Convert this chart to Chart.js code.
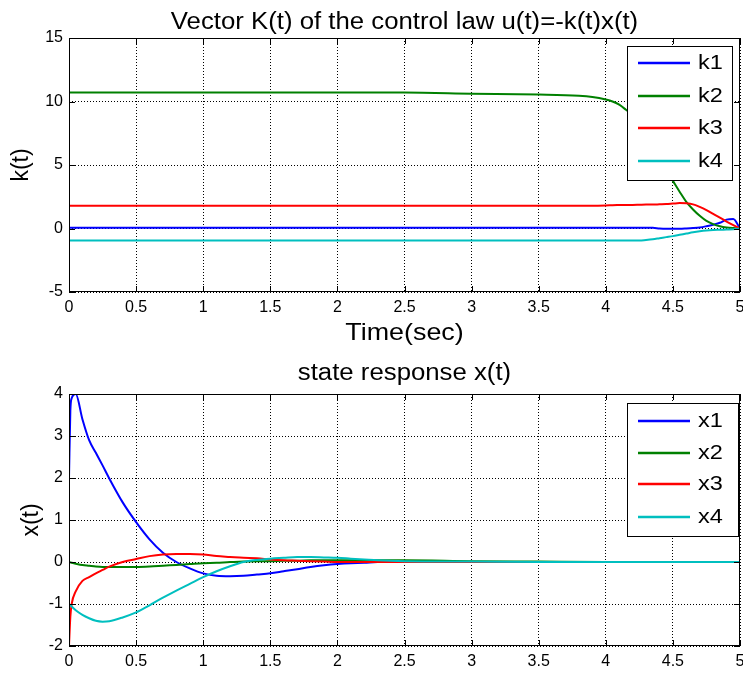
<!DOCTYPE html>
<html>
<head>
<meta charset="utf-8">
<script src="https://cdn.jsdelivr.net/npm/chart.js@4.4.0/dist/chart.umd.min.js"></script>
<style>
  html, body { margin: 0; padding: 0; background: #fff; }
  #wrap { position: relative; width: 743px; height: 675px; }
  canvas { position: absolute; left: 0; }
</style>
</head>
<body>
<div id="wrap">
  <canvas id="gainChart" width="743" height="350" style="top:0"></canvas>
  <canvas id="stateChart" width="743" height="325" style="top:350px"></canvas>
</div>
<script>

// gain vector K(t)
const tGain = [0, 1, 2, 2.5, 3, 3.5, 3.8, 3.9, 4.0, 4.05, 4.1, 4.15, 4.2, 4.25, 4.3, 4.35, 4.4, 4.45, 4.5, 4.55, 4.6, 4.65, 4.7, 4.75, 4.8, 4.85, 4.9, 4.95, 5];
const k1 = [0.05, 0.05, 0.05, 0.05, 0.05, 0.05, 0.05, 0.05, 0.05, 0.05, 0.05, 0.05, 0.05, 0.05, 0.05, 0.05, 0.0, -0.02, -0.02, -0.02, 0.0, 0.03, 0.08, 0.18, 0.3, 0.45, 0.7, 0.75, 0.0];
const k2 = [10.7, 10.7, 10.7, 10.7, 10.62, 10.55, 10.45, 10.35, 10.15, 10.0, 9.75, 9.35, 8.9, 8.1, 7.3, 6.4, 5.5, 4.6, 3.75, 2.9, 2.1, 1.5, 1.0, 0.6, 0.35, 0.18, 0.08, 0.03, 0.0];
const k3 = [1.8, 1.8, 1.8, 1.8, 1.8, 1.8, 1.8, 1.8, 1.82, 1.84, 1.85, 1.86, 1.86, 1.87, 1.88, 1.88, 1.9, 1.92, 1.96, 2.0, 1.98, 1.9, 1.7, 1.45, 1.15, 0.85, 0.55, 0.27, 0.0];
const k4 = [-0.95, -0.95, -0.95, -0.95, -0.95, -0.95, -0.95, -0.95, -0.95, -0.95, -0.95, -0.95, -0.95, -0.95, -0.9, -0.84, -0.76, -0.68, -0.6, -0.5, -0.4, -0.3, -0.22, -0.16, -0.12, -0.1, -0.08, -0.06, 0.0];

// state response x(t)
const tState = [0, 0.01, 0.02, 0.05, 0.1, 0.15, 0.2, 0.25, 0.3, 0.4, 0.5, 0.6, 0.7, 0.8, 0.9, 1.0, 1.1, 1.2, 1.3, 1.4, 1.5, 1.6, 1.7, 1.8, 1.9, 2.0, 2.1, 2.2, 2.3, 2.5, 3, 3.5, 4, 4.5, 5];
const x1 = [2, 3.6, 3.9, 4.0, 3.4, 2.9, 2.6, 2.3, 1.99, 1.42, 0.95, 0.54, 0.22, 0.0, -0.15, -0.27, -0.33, -0.34, -0.33, -0.3, -0.27, -0.22, -0.17, -0.12, -0.08, -0.05, -0.03, -0.02, 0, 0, 0, 0, 0, 0, 0];
const x2 = [0, -0.01, -0.02, -0.04, -0.07, -0.09, -0.11, -0.12, -0.12, -0.12, -0.12, -0.11, -0.09, -0.07, -0.05, -0.03, -0.02, 0, 0.01, 0.02, 0.02, 0.03, 0.03, 0.04, 0.04, 0.04, 0.04, 0.04, 0.04, 0.04, 0.02, 0.01, 0, 0, 0];
const x3 = [-2, -1.3, -1.0, -0.7, -0.45, -0.36, -0.27, -0.19, -0.11, 0.0, 0.07, 0.14, 0.18, 0.19, 0.19, 0.18, 0.14, 0.12, 0.1, 0.09, 0.06, 0.04, 0.03, 0.02, 0.01, 0, 0, 0, 0, 0, 0, 0, 0, 0, 0];
const x4 = [-1, -1.03, -1.06, -1.15, -1.26, -1.34, -1.4, -1.42, -1.41, -1.32, -1.2, -1.03, -0.85, -0.68, -0.52, -0.36, -0.22, -0.1, 0.0, 0.05, 0.08, 0.1, 0.12, 0.12, 0.11, 0.1, 0.08, 0.06, 0.04, 0.02, 0.01, 0, 0, 0, 0];

// tick labels
const timeTicks = [0, 0.5, 1, 1.5, 2, 2.5, 3, 3.5, 4, 4.5, 5];
const gainTicks = [-5, 0, 5, 10, 15];
const stateTicks = [-2, -1, 0, 1, 2, 3, 4];

const FONT = "'Liberation Sans', Arial, Helvetica, sans-serif";
const colors = ['#0000ff', '#008000', '#ff0000', '#00bfbf'];
const STRETCH = 1.12; // the reference text is a little wider than plain Arial

const toPoints = (ts, vs) => ts.map((t, i) => ({ x: t, y: vs[i] }));

const wideText = (ctx, txt, x, y) => {
    ctx.save();
    ctx.translate(x, y);
    ctx.scale(STRETCH, 1);
    ctx.fillText(txt, 0, 0);
    ctx.restore();
};

// matlab style frame, inward ticks, boxed legend and the titles
const matlabLook = {
    id: 'matlabLook',
    afterDraw(chart, args, opts) {
        const { ctx, chartArea: a, scales: { x, y } } = chart;
        ctx.save();
        ctx.strokeStyle = '#000';
        ctx.lineWidth = 1;
        ctx.strokeRect(a.left + 0.5, a.top + 0.5, a.right - a.left - 1, a.bottom - a.top - 1);

        ctx.beginPath();
        x.ticks.forEach(t => {
            const px = Math.round(x.getPixelForValue(t.value)) + 0.5;
            ctx.moveTo(px, a.bottom); ctx.lineTo(px, a.bottom - 6);
            ctx.moveTo(px, a.top); ctx.lineTo(px, a.top + 6);
        });
        y.ticks.forEach(t => {
            const py = Math.round(y.getPixelForValue(t.value)) + 0.5;
            ctx.moveTo(a.left, py); ctx.lineTo(a.left + 6, py);
            ctx.moveTo(a.right, py); ctx.lineTo(a.right - 6, py);
        });
        ctx.stroke();

        // legend
        const [l, tp, r, b] = opts.box;
        ctx.fillStyle = '#fff';
        ctx.fillRect(l, tp, r - l, b - tp);
        ctx.strokeRect(l + 0.5, tp + 0.5, r - l, b - tp);
        ctx.font = `21px ${FONT}`;
        ctx.textBaseline = 'middle';
        ctx.textAlign = 'left';
        chart.data.datasets.forEach((ds, i) => {
            const ry = opts.rows[i];
            ctx.strokeStyle = ds.borderColor;
            ctx.lineWidth = 2.5;
            ctx.beginPath();
            ctx.moveTo(l + 11, ry); ctx.lineTo(l + 63, ry);
            ctx.stroke();
            ctx.fillStyle = '#000';
            wideText(ctx, ds.label, l + 71, ry);
        });

        // titles
        const cx = (a.left + a.right) / 2;
        ctx.fillStyle = '#000';
        ctx.textAlign = 'center';
        ctx.textBaseline = 'alphabetic';
        ctx.font = `23px ${FONT}`;
        wideText(ctx, opts.title, cx, opts.titleY);
        if (opts.xTitle) {
            ctx.font = `24px ${FONT}`;
            wideText(ctx, opts.xTitle, cx, opts.xTitleY);
        }
        ctx.font = `23px ${FONT}`;
        ctx.textBaseline = 'middle';
        ctx.translate(opts.yTitleX, (a.top + a.bottom) / 2);
        ctx.rotate(-Math.PI / 2);
        ctx.fillText(opts.yTitle, 0, 0);
        ctx.restore();
    }
};

const makeChart = (id, ts, series, names, yTicks, heightBelow, topPad, lookOpts) => {
    const ctx = document.getElementById(id).getContext('2d');
    return new Chart(ctx, {
        type: 'line',
        data: {
            datasets: series.map((s, i) => ({
                label: names[i],
                data: toPoints(ts, s),
                borderColor: colors[i],
                borderWidth: 2,
                pointRadius: 0,
                cubicInterpolationMode: 'monotone',
                fill: false,
                order: series.length - i,
            }))
        },
        options: {
            responsive: false,
            devicePixelRatio: 1,
            animation: false,
            layout: { padding: { top: topPad, left: 0, right: 3, bottom: 0 } },
            scales: {
                x: {
                    type: 'linear',
                    min: 0,
                    max: 5,
                    afterBuildTicks: s => { s.ticks = timeTicks.map(v => ({ value: v })); },
                    afterFit: s => { s.height = heightBelow; s.paddingLeft = 0; s.paddingRight = 0; },
                    ticks: {
                        color: '#000', padding: 6, maxRotation: 0, autoSkip: false,
                        font: { family: FONT, size: 16 },
                        callback: v => String(v),
                    },
                    grid: { color: '#000', lineWidth: 1, drawTicks: false, borderDash: [1, 2] },
                    border: { display: false, dash: [1, 2] },
                },
                y: {
                    min: yTicks[0],
                    max: yTicks[yTicks.length - 1],
                    afterBuildTicks: s => { s.ticks = yTicks.map(v => ({ value: v })); },
                    afterFit: s => { s.width = 69; },
                    ticks: {
                        color: '#000', padding: 6,
                        font: { family: FONT, size: 16 },
                        callback: v => String(v),
                    },
                    grid: { color: '#000', lineWidth: 1, drawTicks: false, borderDash: [1, 2] },
                    border: { display: false, dash: [1, 2] },
                }
            },
            plugins: {
                legend: { display: false },
                tooltip: { enabled: false },
                title: { display: false },
                matlabLook: lookOpts,
            }
        },
        plugins: [matlabLook]
    });
};

makeChart('gainChart', tGain, [k1, k2, k3, k4], ['k1', 'k2', 'k3', 'k4'], gainTicks, 58, 38, {
    box: [627, 46, 732, 180],
    rows: [63, 96, 128, 161],
    title: 'Vector K(t) of the control law u(t)=-k(t)x(t)',
    titleY: 29,
    xTitle: 'Time(sec)',
    xTitleY: 340,
    yTitle: 'k(t)',
    yTitleX: 22,
});

makeChart('stateChart', tState, [x1, x2, x3, x4], ['x1', 'x2', 'x3', 'x4'], stateTicks, 29, 44, {
    box: [627, 53, 738, 186],
    rows: [71, 103, 134, 167],
    title: 'state response x(t)',
    titleY: 30,
    yTitle: 'x(t)',
    yTitleX: 32,
});

</script>
</body>
</html>
